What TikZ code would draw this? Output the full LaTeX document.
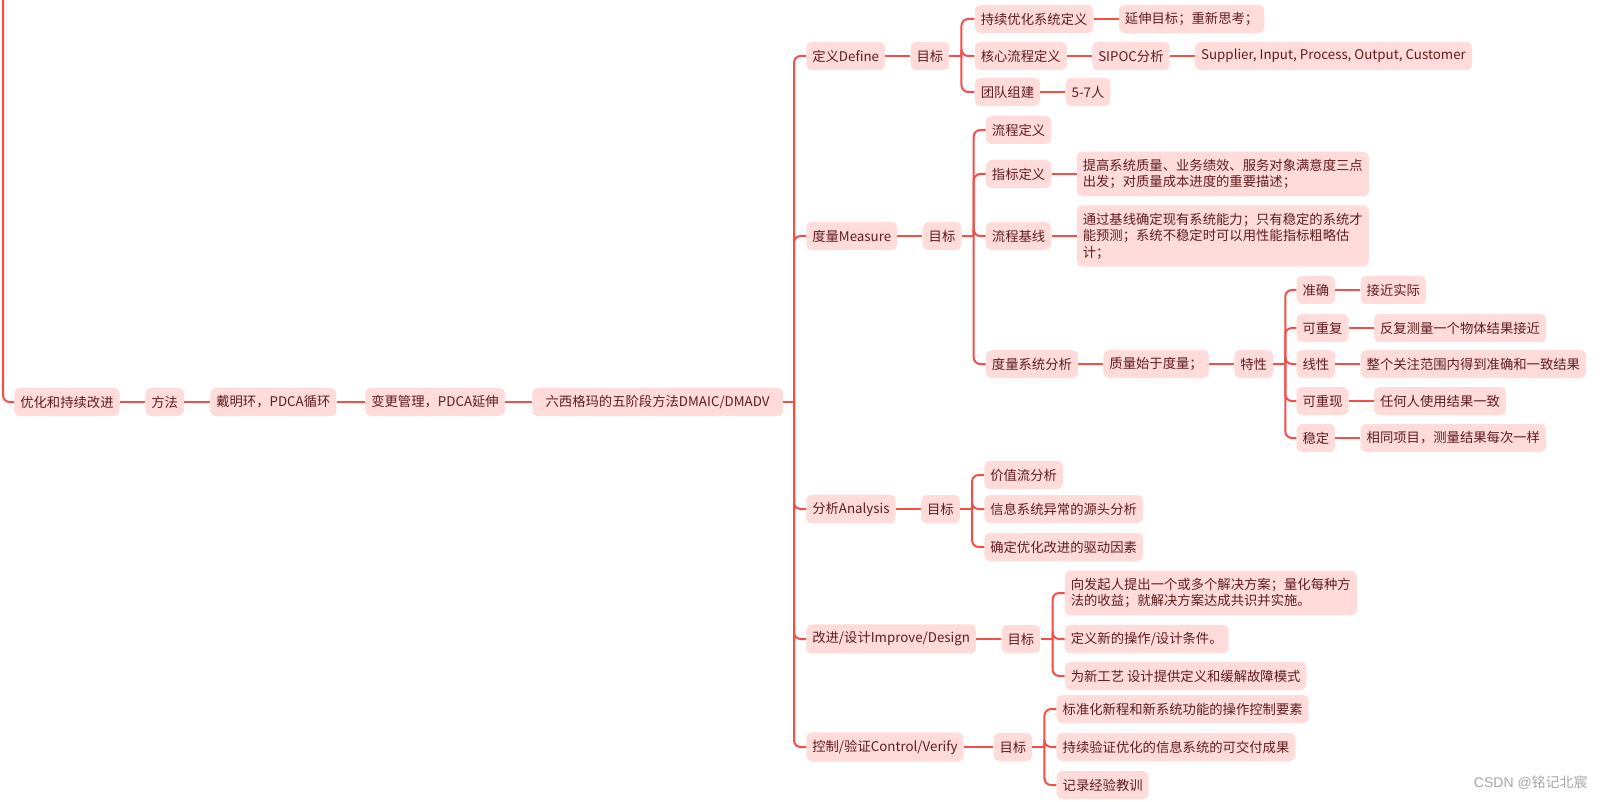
\documentclass[tikz,border=0pt]{standalone}
\usepackage{fontspec}
\setmainfont{Noto Sans CJK SC}
\newfontfamily\markfont{Liberation Sans}
\usepackage{tikz}
\usetikzlibrary{positioning, calc}
\definecolor{map-line}{RGB}{245,77,72}
\definecolor{map-fill}{RGB}{255,219,218}
\definecolor{map-text}{RGB}{96,28,28}
\definecolor{map-mark}{RGB}{165,165,165}

\begin{document}
\begin{tikzpicture}[
    x=0.75pt, y=-0.75pt,
    node distance=18.75pt,
    every node/.style={font=\fontsize{10}{12.4}\selectfont},
    topic/.style={rectangle, rounded corners=4pt, fill=map-fill,
                  text=map-text, inner xsep=4.5pt, inner ysep=5.5pt,
                  minimum height=21pt, anchor=west, align=left},
    link/.style={draw=map-line, line width=1.5pt, rounded corners=5pt},
  ]
    \useasboundingbox (0,0) rectangle (1603,802);

    % main chain
    \coordinate (top) at (3,0);
    \node[topic] (opt) at (14,402) {优化和持续改进};
    \node[topic] (meth) at (145,402) {方法};
    \node[topic] (pdca) at (210,402) {戴明环，PDCA循环};
    \node[topic] (chg) at (365,402) {变更管理，PDCA延伸};
    \node[topic, minimum width=188pt] (six) at (532,402) {六西格玛的五阶段方法DMAIC/DMADV};
    \coordinate (trunk) at (794,402);

    % five phases
    \node[topic] (def) at ($(trunk |- 0,56)+(12,0)$) {定义Define};
    \node[topic] (mea) at ($(trunk |- 0,236)+(12,0)$) {度量Measure};
    \node[topic] (ana) at ($(trunk |- 0,509)+(12,0)$) {分析Analysis};
    \node[topic] (imp) at ($(trunk |- 0,639)+(12,0)$) {改进/设计Improve/Design};
    \node[topic] (ctl) at ($(trunk |- 0,747)+(12,0)$) {控制/验证Control/Verify};

    % define
    \node[topic, right=of def] (goal1) {目标};
    \coordinate (bus1) at ($(goal1.east)+(12,0)$);
    \node[topic] (d1) at ($(bus1 |- 0,19)+(13,0)$) {持续优化系统定义};
    \node[topic] (d2) at ($(bus1 |- 0,56)+(13,0)$) {核心流程定义};
    \node[topic] (d3) at ($(bus1 |- 0,92)+(13,0)$) {团队组建};
    \node[topic, right=of d1] (d1a) {延伸目标；重新思考；};
    \node[topic, right=of d2] (d2a) {SIPOC分析};
    \node[topic, right=of d2a] (d2b) {Supplier, Input, Process, Output, Customer};
    \node[topic, right=of d3] (d3a) {5-7人};

    % measure
    \node[topic, right=of mea] (goal2) {目标};
    \coordinate (bus2) at ($(goal2.east)+(12,0)$);
    \node[topic] (m1) at ($(bus2 |- 0,130)+(12,0)$) {流程定义};
    \node[topic] (m2) at ($(bus2 |- 0,174)+(12,0)$) {指标定义};
    \node[topic] (m3) at ($(bus2 |- 0,236)+(12,0)$) {流程基线};
    \node[topic] (m4) at ($(bus2 |- 0,364)+(12,0)$) {度量系统分析};
    \node[topic, right=of m2] (m2a)
      {提高系统质量、业务绩效、服务对象满意度三点\\出发；对质量成本进度的重要描述；};
    \node[topic, right=of m3] (m3a)
      {通过基线确定现有系统能力；只有稳定的系统才\\能预测；系统不稳定时可以用性能指标粗略估\\计；};
    \node[topic, right=of m4] (m4a) {质量始于度量；};
    \node[topic, right=of m4a] (trait) {特性};
    \coordinate (bus6) at ($(trait.east)+(12,0)$);
    \node[topic] (c1) at ($(bus6 |- 0,290)+(11,0)$) {准确};
    \node[topic] (c2) at ($(bus6 |- 0,328)+(11,0)$) {可重复};
    \node[topic] (c3) at ($(bus6 |- 0,364)+(11,0)$) {线性};
    \node[topic] (c4) at ($(bus6 |- 0,401)+(11,0)$) {可重现};
    \node[topic] (c5) at ($(bus6 |- 0,438)+(11,0)$) {稳定};
    \node[topic, right=of c1] (c1a) {接近实际};
    \node[topic, right=of c2] (c2a) {反复测量一个物体结果接近};
    \node[topic, right=of c3] (c3a) {整个关注范围内得到准确和一致结果};
    \node[topic, right=of c4] (c4a) {任何人使用结果一致};
    \node[topic, right=of c5] (c5a) {相同项目，测量结果每次一样};

    % analyse
    \node[topic, right=of ana] (goal3) {目标};
    \coordinate (bus3) at ($(goal3.east)+(12,0)$);
    \node[topic] (a1) at ($(bus3 |- 0,475)+(12,0)$) {价值流分析};
    \node[topic] (a2) at ($(bus3 |- 0,509)+(12,0)$) {信息系统异常的源头分析};
    \node[topic] (a3) at ($(bus3 |- 0,547)+(12,0)$) {确定优化改进的驱动因素};

    % improve
    \node[topic, right=of imp] (goal4) {目标};
    \coordinate (bus4) at ($(goal4.east)+(12,0)$);
    \node[topic] (i1) at ($(bus4 |- 0,593)+(12,0)$)
      {向发起人提出一个或多个解决方案；量化每种方\\法的收益；就解决方案达成共识并实施。};
    \node[topic] (i2) at ($(bus4 |- 0,639)+(12,0)$) {定义新的操作/设计条件。};
    \node[topic] (i3) at ($(bus4 |- 0,676)+(12,0)$) {为新工艺 设计提供定义和缓解故障模式};

    % control
    \node[topic, right=22pt of ctl] (goal5) {目标};
    \coordinate (bus5) at ($(goal5.east)+(12,0)$);
    \node[topic] (k1) at ($(bus5 |- 0,709)+(12,0)$) {标准化新程和新系统功能的操作控制要素};
    \node[topic] (k2) at ($(bus5 |- 0,747)+(12,0)$) {持续验证优化的信息系统的可交付成果};
    \node[topic] (k3) at ($(bus5 |- 0,785)+(12,0)$) {记录经验教训};

    \node[text=map-mark, anchor=east, inner sep=0pt,
          font=\fontsize{10.5}{12}\selectfont] (mark) at (1588,783)
      {{\markfont CSDN @}铭记北宸};

    % connectors
    \draw[link] (top) |- (opt.west);
    \foreach \a/\b in {opt/meth, meth/pdca, pdca/chg, chg/six,
                       def/goal1, d1/d1a, d2/d2a, d2a/d2b, d3/d3a,
                       mea/goal2, m2/m2a, m3/m3a, m4/m4a, m4a/trait,
                       c1/c1a, c2/c2a, c3/c3a, c4/c4a, c5/c5a,
                       ana/goal3, imp/goal4, ctl/goal5}
      \draw[link] (\a.east) -- (\b.west);
    \draw[link] (six.east) -- (trunk);
    \draw[link] (goal1.east) -- (bus1);
    \draw[link] (goal2.east) -- (bus2);
    \draw[link] (trait.east) -- (bus6);
    \draw[link] (goal3.east) -- (bus3);
    \draw[link] (goal4.east) -- (bus4);
    \draw[link] (goal5.east) -- (bus5);
    \foreach \n in {def, mea, ana, imp, ctl}
      \draw[link] (trunk) |- (\n.west);
    \foreach \n in {d1, d2, d3}
      \draw[link] (bus1) |- (\n.west);
    \foreach \n in {m1, m2, m3, m4}
      \draw[link] (bus2) |- (\n.west);
    \foreach \n in {c1, c2, c3, c4, c5}
      \draw[link] (bus6) |- (\n.west);
    \foreach \n in {a1, a2, a3}
      \draw[link] (bus3) |- (\n.west);
    \foreach \n in {i1, i2, i3}
      \draw[link] (bus4) |- (\n.west);
    \foreach \n in {k1, k2, k3}
      \draw[link] (bus5) |- (\n.west);
\end{tikzpicture}
\end{document}
